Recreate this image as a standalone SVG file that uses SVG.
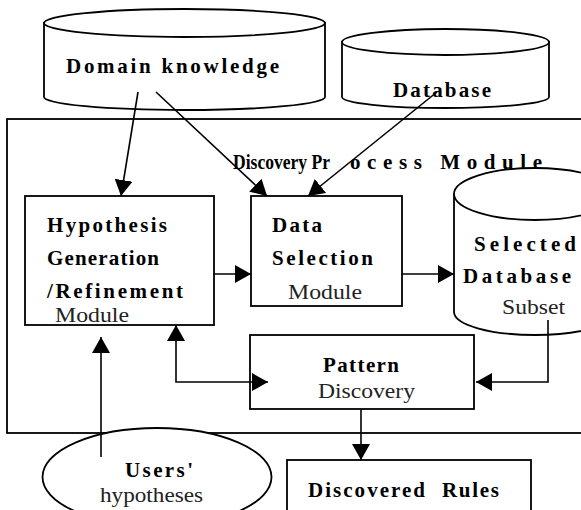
<svg xmlns="http://www.w3.org/2000/svg" width="581" height="510" viewBox="0 0 581 510" font-family="'Liberation Serif', 'Times New Roman', Times, 'DejaVu Serif', serif">
<style>
.shape{fill:#fff;stroke:#000;stroke-width:1.8}
.ln{fill:none;stroke:#000;stroke-width:1.6}
.b{font-family:'Liberation Serif','Times New Roman',Times,'DejaVu Serif',serif;font-weight:bold;font-size:21px;fill:#000}
.r{font-family:'Liberation Serif','Times New Roman',Times,'DejaVu Serif',serif;font-size:22px;fill:#222}
</style>
<defs>
<marker id="ah" viewBox="0 0 16 18" refX="16" refY="9" markerWidth="16" markerHeight="18" markerUnits="userSpaceOnUse" orient="auto-start-reverse">
<path d="M0,0 L16,9 L0,18 z" fill="#000"/>
</marker>
</defs>
<rect id="process-module" class="shape" x="7" y="119" width="600" height="314"/>
<text class="b" x="233" y="169"><tspan x="233" textLength="97" lengthAdjust="spacingAndGlyphs">Discovery Pr</tspan><tspan x="350" textLength="192" lengthAdjust="spacing">ocess Module</tspan></text>
<g id="domain-knowledge">
<path class="shape" d="M44,23 L44,97 A140.5,13 0 0 0 325,97 L325,23 Z"/>
<ellipse class="shape" cx="184.5" cy="23" rx="140.5" ry="14"/>
<text class="b" x="66" y="73" textLength="213" lengthAdjust="spacing">Domain knowledge</text>
</g>
<g id="database">
<path class="shape" d="M342,42 L342,97 A103.5,11 0 0 0 549,97 L549,42 Z"/>
<ellipse class="shape" cx="445.5" cy="42" rx="103.5" ry="13"/>
<text class="b" x="393" y="97" textLength="98" lengthAdjust="spacing">Database</text>
</g>
<g id="hypothesis">
<rect class="shape" x="25" y="196" width="189" height="129"/>
<text class="b" x="47" y="232" textLength="120" lengthAdjust="spacing">Hypothesis</text>
<text class="b" x="47" y="265" textLength="112" lengthAdjust="spacing">Generation</text>
<text class="b" x="47" y="298" textLength="136" lengthAdjust="spacing">/Refinement</text>
<text class="r" x="55" y="322" textLength="74" lengthAdjust="spacingAndGlyphs">Module</text>
</g>
<g id="data-selection">
<rect class="shape" x="251" y="196" width="151" height="110"/>
<text class="b" x="272" y="232" textLength="50" lengthAdjust="spacing">Data</text>
<text class="b" x="272" y="265" textLength="101" lengthAdjust="spacing">Selection</text>
<text class="r" x="288" y="299" textLength="74" lengthAdjust="spacingAndGlyphs">Module</text>
</g>
<g id="selected-subset">
<path class="shape" d="M454,194 L454,312 A81,23 0 0 0 616,312 L616,194 Z"/>
<ellipse class="shape" cx="535" cy="194" rx="81" ry="26"/>
<text class="b" x="474" y="251" textLength="102" lengthAdjust="spacing">Selected</text>
<text class="b" x="463" y="283" textLength="108" lengthAdjust="spacing">Database</text>
<text class="r" x="502" y="314" textLength="63" lengthAdjust="spacingAndGlyphs">Subset</text>
</g>
<g id="pattern-discovery">
<rect class="shape" x="250" y="335" width="224" height="74"/>
<text class="b" x="323" y="372" textLength="76" lengthAdjust="spacing">Pattern</text>
<text class="r" x="318" y="398" textLength="97" lengthAdjust="spacingAndGlyphs">Discovery</text>
</g>
<g id="users-hypotheses">
<ellipse class="shape" cx="157" cy="477" rx="114.5" ry="49"/>
<text class="b" x="125" y="477" textLength="68" lengthAdjust="spacing">Users'</text>
<text class="r" x="100" y="502" textLength="103" lengthAdjust="spacingAndGlyphs">hypotheses</text>
</g>
<g id="discovered-rules">
<rect class="shape" x="287" y="460" width="244" height="60"/>
<text class="b" x="308" y="497"><tspan x="308" textLength="117" lengthAdjust="spacing">Discovered</tspan> <tspan x="442" textLength="57" lengthAdjust="spacing">Rules</tspan></text>
</g>
<g id="connectors" class="ln">
<path d="M138,92 L121,196" marker-end="url(#ah)"/>
<path d="M156,92 L267,196" marker-end="url(#ah)"/>
<path d="M437,92 L308,196" marker-end="url(#ah)"/>
<path d="M213,274 L251,274" marker-end="url(#ah)"/>
<path d="M402,274 L454,274" marker-end="url(#ah)"/>
<path d="M176,325 L176,382 L268,382" marker-start="url(#ah)" marker-end="url(#ah)"/>
<path d="M548,320 L548,382 L476,382" marker-end="url(#ah)"/>
<path d="M361,409 L361,460" marker-end="url(#ah)"/>
<path d="M101,457 L101,337" marker-end="url(#ah)"/>
</g>
</svg>
